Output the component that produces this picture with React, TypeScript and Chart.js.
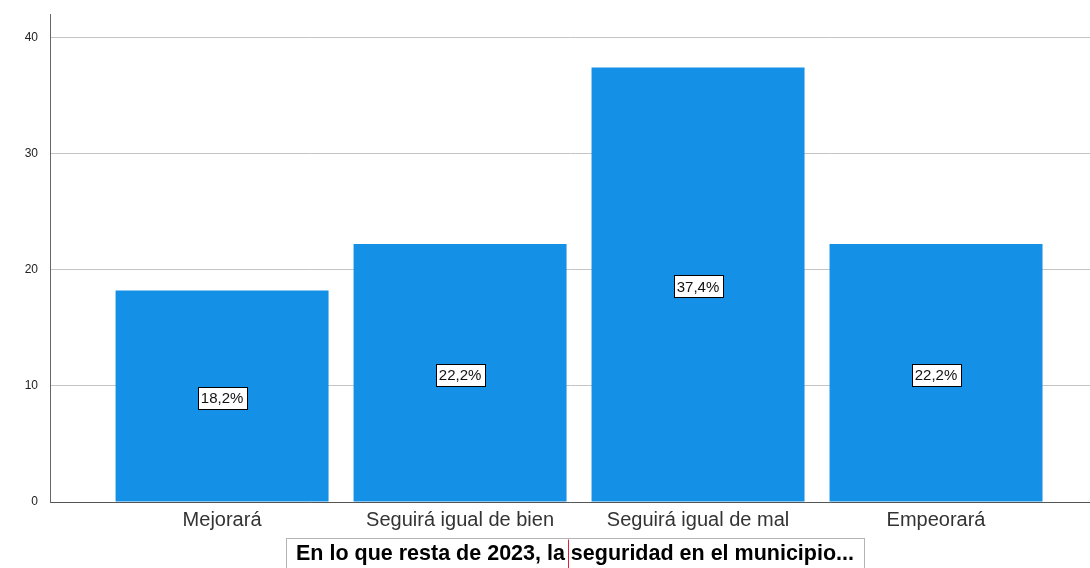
import React, { useEffect, useRef } from "react";
import { Chart, registerables } from "chart.js";

Chart.register(...registerables);

const categories = ["Mejorará", "Seguirá igual de bien", "Seguirá igual de mal", "Empeorará"];
const percentValues = [18.2, 22.2, 37.4, 22.2];
const percentLabels = ["18,2%", "22,2%", "37,4%", "22,2%"];
const yTicks = [0, 10, 20, 30, 40];
const titleText = "En lo que resta de 2023, la seguridad en el municipio...";
const titleCursorBefore = "En lo que resta de 2023, la ";

const FONT = "'Liberation Sans', Arial, sans-serif";

const valueLabelPlugin = {
  id: "valueLabels",
  afterDatasetsDraw(chart: any) {
    const ctx = chart.ctx;
    const meta = chart.getDatasetMeta(0);
    ctx.save();
    ctx.font = `15px ${FONT}`;
    ctx.textAlign = "center";
    ctx.textBaseline = "middle";
    meta.data.forEach((el: any, i: number) => {
      const text = percentLabels[i];
      const cx = el.x;
      const cy = (el.y + el.base) / 2 + 2;
      const w = Math.round(ctx.measureText(text).width + 6);
      const h = 22;
      const x0 = Math.round(cx - w / 2) + 0.5;
      const y0 = Math.round(cy - h / 2) + 0.5;
      ctx.fillStyle = "#ffffff";
      ctx.fillRect(x0, y0, w, h);
      ctx.strokeStyle = "#000000";
      ctx.lineWidth = 1;
      ctx.strokeRect(x0, y0, w, h);
      ctx.fillStyle = "#111111";
      ctx.fillText(text, cx, cy + 1);
    });
    ctx.restore();
  },
};

const titleBoxPlugin = {
  id: "titleBox",
  afterDraw(chart: any) {
    const ctx = chart.ctx;
    const area = chart.chartArea;
    ctx.save();
    ctx.font = `bold 21.5px ${FONT}`;
    const w = ctx.measureText(titleText).width;
    const cx = (area.left + area.right) / 2 + 5;
    const textLeft = cx - w / 2;
    const boxLeft = Math.round(textLeft - 10) + 0.5;
    const boxTop = chart.height - 29.5;
    ctx.strokeStyle = "#b4b4b4";
    ctx.lineWidth = 1;
    ctx.strokeRect(boxLeft, boxTop, Math.round(w + 20), 40);
    ctx.fillStyle = "#000000";
    ctx.textAlign = "left";
    ctx.textBaseline = "middle";
    ctx.fillText(titleText, textLeft, chart.height - 14);
    const cursorX = Math.round(textLeft + ctx.measureText(titleCursorBefore).width - 3) + 0.5;
    ctx.strokeStyle = "#e0203a";
    ctx.beginPath();
    ctx.moveTo(cursorX, boxTop + 1);
    ctx.lineTo(cursorX, chart.height);
    ctx.stroke();
    ctx.restore();
  },
};

export default function App() {
  const canvasRef = useRef<HTMLCanvasElement | null>(null);

  useEffect(() => {
    if (!canvasRef.current) return;
    const chart = new Chart(canvasRef.current, {
      type: "bar",
      data: {
        labels: categories,
        datasets: [
          {
            data: percentValues,
            backgroundColor: "#1490e6",
            borderWidth: 0,
            categoryPercentage: 1,
            barPercentage: 0.895,
          },
        ],
      },
      plugins: [valueLabelPlugin, titleBoxPlugin],
      options: {
        responsive: false,
        animation: false,
        events: [],
        layout: { padding: { top: 14, right: 0, left: 0, bottom: 32 } },
        plugins: {
          legend: { display: false },
          tooltip: { enabled: false },
          title: { display: false },
        },
        scales: {
          x: {
            type: "category",
            offset: true,
            grid: { display: false, drawTicks: false },
            border: { display: true, color: "#555555", width: 1 },
            ticks: {
              color: "#333333",
              font: { family: FONT, size: 20 },
              padding: 6,
              maxRotation: 0,
              autoSkip: false,
            },
            afterBuildTicks: (scale: any) => {
              scale._startValue = -0.723;
              scale._valueRange = 4.37;
            },
            afterFit: (scale: any) => {
              scale.height = 34;
              scale.paddingLeft = 0;
              scale.paddingRight = 0;
            },
          },
          y: {
            min: 0,
            max: 42,
            afterBuildTicks: (scale: any) => {
              scale.ticks = yTicks.map((v) => ({ value: v }));
            },
            grid: { color: "#c4c4c4", drawTicks: false, lineWidth: 1 },
            border: { display: true, color: "#666666", width: 1 },
            ticks: {
              color: "#222222",
              font: { family: FONT, size: 12 },
              padding: 12,
            },
            afterFit: (scale: any) => {
              scale.width = 50;
              scale.paddingTop = 0;
              scale.paddingBottom = 0;
            },
          },
        },
      } as any,
    });
    return () => chart.destroy();
  }, []);

  return (
    <div style={{ position: "fixed", left: 0, top: 0, width: 1090, height: 568, background: "#ffffff" }}>
      <canvas ref={canvasRef} width={1090} height={568} style={{ display: "block" }} />
    </div>
  );
}
